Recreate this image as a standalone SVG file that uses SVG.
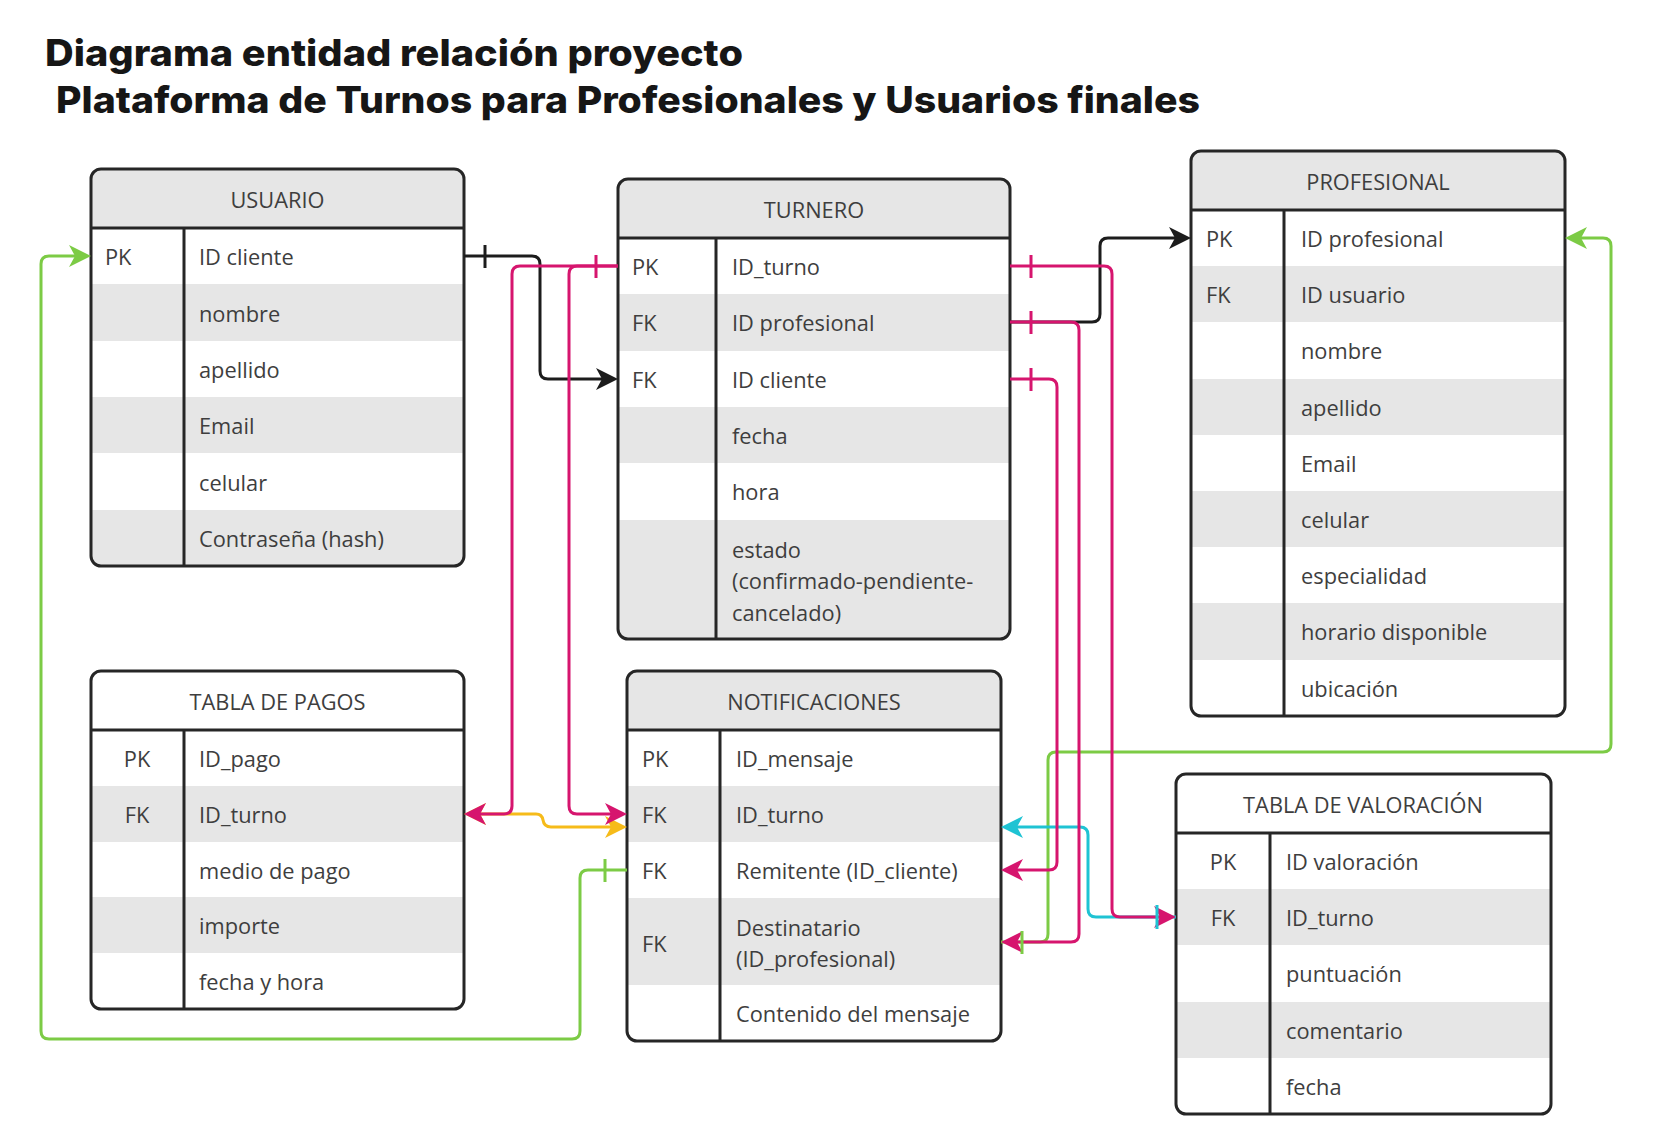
<svg xmlns="http://www.w3.org/2000/svg" width="1680" height="1140" viewBox="0 0 1680 1140">
<defs>
<style>
.title{font-family:Inter,"Liberation Sans",sans-serif;font-weight:800;font-size:37px;fill:#161616}
.t{font-family:"Open Sans","Liberation Sans",sans-serif;font-size:21.8px;fill:#3e3e3e}
.m{text-anchor:middle}
.bg{fill:#fff}
.gr{fill:#e6e6e6}
.ol{fill:none;stroke:#262626;stroke-width:3}
.sep{stroke:#262626;stroke-width:3}
.cn{fill:none;stroke-width:3;stroke-linejoin:round}
.k{stroke:#1c1c1c}
.p{stroke:#d6156e}
.gn{stroke:#7ccb45}
.cy{stroke:#1fc3d3}
.y{stroke:#f6bb1a}
</style>
<marker id="aK" viewBox="0 0 22 24" refX="16" refY="12" markerWidth="22" markerHeight="24" markerUnits="userSpaceOnUse" orient="auto"><path d="M0,1 L22,12 L0,23 L6,12 Z" fill="#1c1c1c"/></marker>
<marker id="aP" viewBox="0 0 22 24" refX="16" refY="12" markerWidth="22" markerHeight="24" markerUnits="userSpaceOnUse" orient="auto"><path d="M0,1 L22,12 L0,23 L6,12 Z" fill="#d6156e"/></marker>
<marker id="aG" viewBox="0 0 22 24" refX="16" refY="12" markerWidth="22" markerHeight="24" markerUnits="userSpaceOnUse" orient="auto"><path d="M0,1 L22,12 L0,23 L6,12 Z" fill="#7ccb45"/></marker>
<marker id="aC" viewBox="0 0 22 24" refX="16" refY="12" markerWidth="22" markerHeight="24" markerUnits="userSpaceOnUse" orient="auto"><path d="M0,1 L22,12 L0,23 L6,12 Z" fill="#1fc3d3"/></marker>
<marker id="aY" viewBox="0 0 22 24" refX="16" refY="12" markerWidth="22" markerHeight="24" markerUnits="userSpaceOnUse" orient="auto-start-reverse"><path d="M0,1 L22,12 L0,23 L6,12 Z" fill="#f6bb1a"/></marker>
<clipPath id="cu"><rect x="91" y="169" width="373" height="397" rx="10"/></clipPath>
<clipPath id="ct"><rect x="618" y="179" width="392" height="460" rx="10"/></clipPath>
<clipPath id="cp"><rect x="1191" y="151" width="374" height="565" rx="10"/></clipPath>
<clipPath id="cg"><rect x="91" y="671" width="373" height="338" rx="10"/></clipPath>
<clipPath id="cn"><rect x="627" y="671" width="374" height="370" rx="10"/></clipPath>
<clipPath id="cv"><rect x="1176" y="774" width="375" height="340" rx="10"/></clipPath>
</defs>

<g id="title">
<text class="title" x="45" y="66" textLength="698" lengthAdjust="spacingAndGlyphs">Diagrama entidad relación proyecto</text>
<text class="title" x="56" y="113" textLength="1144" lengthAdjust="spacingAndGlyphs">Plataforma de Turnos para Profesionales y Usuarios finales</text>
</g>

<g id="usuario">
<g clip-path="url(#cu)">
<rect class="bg" x="91" y="169" width="373" height="397"/>
<rect class="gr" x="91" y="169" width="373" height="59"/>
<rect class="gr" x="91" y="284" width="373" height="57"/>
<rect class="gr" x="91" y="397" width="373" height="56"/>
<rect class="gr" x="91" y="510" width="373" height="56"/>
</g>
<line class="sep" x1="91" y1="228" x2="464" y2="228"/>
<line class="sep" x1="184" y1="228" x2="184" y2="566"/>
<rect class="ol" x="91" y="169" width="373" height="397" rx="10"/>
<text class="t m" x="277.5" y="208">USUARIO</text>
<text class="t" x="105" y="265">PK</text>
<text class="t" x="199" y="265">ID cliente</text>
<text class="t" x="199" y="322">nombre</text>
<text class="t" x="199" y="378">apellido</text>
<text class="t" x="199" y="434">Email</text>
<text class="t" x="199" y="491">celular</text>
<text class="t" x="199" y="547">Contraseña (hash)</text>
</g>

<g id="turnero">
<g clip-path="url(#ct)">
<rect class="bg" x="618" y="179" width="392" height="460"/>
<rect class="gr" x="618" y="179" width="392" height="59"/>
<rect class="gr" x="618" y="294" width="392" height="57"/>
<rect class="gr" x="618" y="407" width="392" height="56"/>
<rect class="gr" x="618" y="520" width="392" height="119"/>
</g>
<line class="sep" x1="618" y1="238" x2="1010" y2="238"/>
<line class="sep" x1="716" y1="238" x2="716" y2="639"/>
<rect class="ol" x="618" y="179" width="392" height="460" rx="10"/>
<text class="t m" x="814" y="218">TURNERO</text>
<text class="t" x="632" y="275">PK</text>
<text class="t" x="632" y="331">FK</text>
<text class="t" x="632" y="388">FK</text>
<text class="t" x="732" y="275">ID_turno</text>
<text class="t" x="732" y="331">ID profesional</text>
<text class="t" x="732" y="388">ID cliente</text>
<text class="t" x="732" y="444">fecha</text>
<text class="t" x="732" y="500">hora</text>
<text class="t" x="732" y="558">estado</text>
<text class="t" x="732" y="589">(confirmado-pendiente-</text>
<text class="t" x="732" y="621">cancelado)</text>
</g>

<g id="profesional">
<g clip-path="url(#cp)">
<rect class="bg" x="1191" y="151" width="374" height="565"/>
<rect class="gr" x="1191" y="151" width="374" height="59"/>
<rect class="gr" x="1191" y="266" width="374" height="56"/>
<rect class="gr" x="1191" y="379" width="374" height="56"/>
<rect class="gr" x="1191" y="491" width="374" height="56"/>
<rect class="gr" x="1191" y="603" width="374" height="57"/>
</g>
<line class="sep" x1="1191" y1="210" x2="1565" y2="210"/>
<line class="sep" x1="1284" y1="210" x2="1284" y2="716"/>
<rect class="ol" x="1191" y="151" width="374" height="565" rx="10"/>
<text class="t m" x="1378" y="190">PROFESIONAL</text>
<text class="t" x="1206" y="247">PK</text>
<text class="t" x="1206" y="303">FK</text>
<text class="t" x="1301" y="247">ID profesional</text>
<text class="t" x="1301" y="303">ID usuario</text>
<text class="t" x="1301" y="359">nombre</text>
<text class="t" x="1301" y="416">apellido</text>
<text class="t" x="1301" y="472">Email</text>
<text class="t" x="1301" y="528">celular</text>
<text class="t" x="1301" y="584">especialidad</text>
<text class="t" x="1301" y="640">horario disponible</text>
<text class="t" x="1301" y="697">ubicación</text>
</g>

<g id="pagos">
<g clip-path="url(#cg)">
<rect class="bg" x="91" y="671" width="373" height="338"/>
<rect class="gr" x="91" y="786" width="373" height="56"/>
<rect class="gr" x="91" y="897" width="373" height="56"/>
</g>
<line class="sep" x1="91" y1="730" x2="464" y2="730"/>
<line class="sep" x1="184" y1="730" x2="184" y2="1009"/>
<rect class="ol" x="91" y="671" width="373" height="338" rx="10"/>
<text class="t m" x="277.5" y="710">TABLA DE PAGOS</text>
<text class="t m" x="137" y="767">PK</text>
<text class="t m" x="137" y="823">FK</text>
<text class="t" x="199" y="767">ID_pago</text>
<text class="t" x="199" y="823">ID_turno</text>
<text class="t" x="199" y="879">medio de pago</text>
<text class="t" x="199" y="934">importe</text>
<text class="t" x="199" y="990">fecha y hora</text>
</g>

<g id="notificaciones">
<g clip-path="url(#cn)">
<rect class="bg" x="627" y="671" width="374" height="370"/>
<rect class="gr" x="627" y="671" width="374" height="59"/>
<rect class="gr" x="627" y="786" width="374" height="56"/>
<rect class="gr" x="627" y="898" width="374" height="87"/>
</g>
<line class="sep" x1="627" y1="730" x2="1001" y2="730"/>
<line class="sep" x1="720" y1="730" x2="720" y2="1041"/>
<rect class="ol" x="627" y="671" width="374" height="370" rx="10"/>
<text class="t m" x="814" y="710">NOTIFICACIONES</text>
<text class="t" x="642" y="767">PK</text>
<text class="t" x="642" y="823">FK</text>
<text class="t" x="642" y="879">FK</text>
<text class="t" x="642" y="952">FK</text>
<text class="t" x="736" y="767">ID_mensaje</text>
<text class="t" x="736" y="823">ID_turno</text>
<text class="t" x="736" y="879">Remitente (ID_cliente)</text>
<text class="t" x="736" y="936">Destinatario</text>
<text class="t" x="736" y="967">(ID_profesional)</text>
<text class="t" x="736" y="1022">Contenido del mensaje</text>
</g>

<g id="valoracion">
<g clip-path="url(#cv)">
<rect class="bg" x="1176" y="774" width="375" height="340"/>
<rect class="gr" x="1176" y="889" width="375" height="56"/>
<rect class="gr" x="1176" y="1002" width="375" height="56"/>
</g>
<line class="sep" x1="1176" y1="833" x2="1551" y2="833"/>
<line class="sep" x1="1270" y1="833" x2="1270" y2="1114"/>
<rect class="ol" x="1176" y="774" width="375" height="340" rx="10"/>
<text class="t m" x="1363" y="813">TABLA DE VALORACIÓN</text>
<text class="t m" x="1223" y="870">PK</text>
<text class="t m" x="1223" y="926">FK</text>
<text class="t" x="1286" y="870">ID valoración</text>
<text class="t" x="1286" y="926">ID_turno</text>
<text class="t" x="1286" y="982">puntuación</text>
<text class="t" x="1286" y="1039">comentario</text>
<text class="t" x="1286" y="1095">fecha</text>
</g>

<g id="connectors">
<path class="cn gn" d="M627,870 H588 Q580,870 580,878 V1031 Q580,1039 572,1039 H49 Q41,1039 41,1031 V264 Q41,256 49,256 H85" marker-end="url(#aG)"/>
<path class="cn gn" d="M1001,942 H1040 Q1048,942 1048,934 V760 Q1048,752 1056,752 H1603 Q1611,752 1611,744 V246 Q1611,238 1603,238 H1571" marker-end="url(#aG)"/>
<path class="cn cy" d="M1176,917 H1096 Q1088,917 1088,909 V835 Q1088,827 1080,827 H1007" marker-end="url(#aC)"/>
<path class="cn y" d="M470,814 H536 Q542,814 543,820 Q544,827 551,827 H621" marker-start="url(#aY)" marker-end="url(#aY)"/>
<path class="cn k" d="M464,256 H532 Q540,256 540,264 V371 Q540,379 548,379 H612" marker-end="url(#aK)"/>
<path class="cn k" d="M1010,322 H1092 Q1100,322 1100,314 V246 Q1100,238 1108,238 H1185" marker-end="url(#aK)"/>
<path class="cn p" d="M1010,266 H1104 Q1112,266 1112,274 V909 Q1112,917 1120,917 H1170" marker-end="url(#aP)"/>
<path class="cn p" d="M1010,322 H1071 Q1079,322 1079,330 V934 Q1079,942 1071,942 H1007" marker-end="url(#aP)"/>
<path class="cn p" d="M1010,379 H1049 Q1057,379 1057,387 V862 Q1057,870 1049,870 H1007" marker-end="url(#aP)"/>
<path class="cn p" d="M618,266 H520 Q512,266 512,274 V806 Q512,814 504,814 H470" marker-end="url(#aP)"/>
<path class="cn p" d="M618,266 H577 Q569,266 569,274 V806 Q569,814 577,814 H621" marker-end="url(#aP)"/>
<path class="cn k" d="M485,245 V268"/>
<path class="cn p" d="M1031,255 V278 M1031,311 V334 M1031,368 V391 M596,255 V278"/>
<path class="cn gn" d="M605,859 V882 M1022,931 V954"/>
<path class="cn cy" d="M1157,905 V929"/>
</g>
</svg>
